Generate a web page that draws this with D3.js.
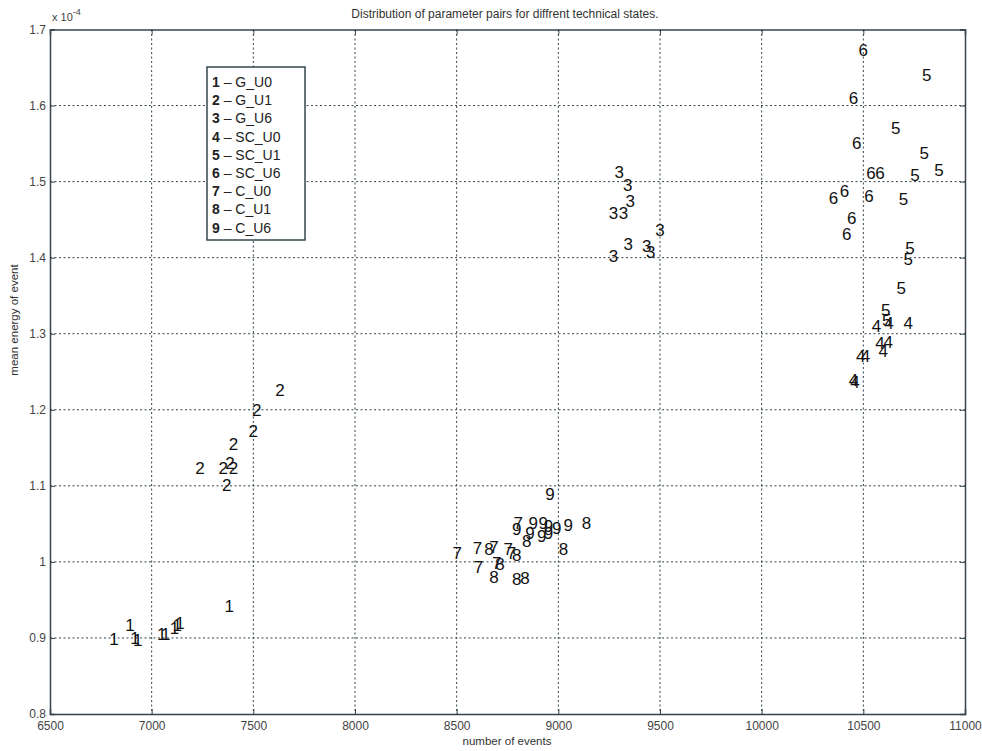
<!DOCTYPE html>
<html>
<head>
<meta charset="utf-8">
<script src="https://cdn.jsdelivr.net/npm/d3@7"></script>
<style>
  body { margin: 0; background: #fff; }
  svg { font-family: "Liberation Sans", Arial, sans-serif; }
  .grid line { stroke: #33424a; stroke-width: 1; stroke-dasharray: 2,2.5; }
  .axis path, .axis line { stroke: #34464c; }
  .axis text { fill: #444; font-size: 12px; }
  .mark { font-size: 17px; fill: #111; }
</style>
</head>
<body>
<script>
// Globals
var svg, plot;

// legend entries, in order of the digit used as marker
var stateNames = ['G_U0', 'G_U1', 'G_U6', 'SC_U0', 'SC_U1', 'SC_U6', 'C_U0', 'C_U1', 'C_U6'];

// [number of events, mean energy (x 1e-4)]
var gU0 = [[6815, 0.898], [6893, 0.917], [6918, 0.899], [6931, 0.896], [7049, 0.905],
           [7069, 0.905], [7112, 0.913], [7126, 0.917], [7139, 0.919], [7382, 0.941]];
var gU1 = [[7631, 1.226], [7517, 1.199], [7500, 1.172], [7402, 1.154], [7238, 1.123],
           [7352, 1.123], [7385, 1.130], [7402, 1.123], [7369, 1.101]];
var gU6 = [[9300, 1.512], [9341, 1.495], [9353, 1.474], [9271, 1.458], [9320, 1.458],
           [9500, 1.436], [9344, 1.417], [9435, 1.415], [9455, 1.407], [9271, 1.401]];
var scU0 = [[10565, 1.309], [10626, 1.314], [10721, 1.313], [10582, 1.287], [10623, 1.289],
            [10598, 1.276], [10487, 1.270], [10511, 1.270], [10451, 1.239], [10459, 1.236]];
var scU1 = [[10812, 1.640], [10659, 1.570], [10799, 1.537], [10754, 1.508], [10872, 1.514],
            [10697, 1.477], [10730, 1.412], [10721, 1.397], [10686, 1.360], [10610, 1.331],
            [10615, 1.318]];
var scU6 = [[10500, 1.673], [10451, 1.609], [10467, 1.550], [10538, 1.511], [10582, 1.511],
            [10353, 1.478], [10407, 1.487], [10528, 1.481], [10443, 1.452], [10418, 1.431]];
var cU0 = [[8803, 1.051], [8503, 1.011], [8602, 1.018], [8684, 1.019], [8754, 1.016],
           [8770, 1.011], [8607, 0.993], [8697, 0.998]];
var cU1 = [[9139, 1.051], [8844, 1.027], [8659, 1.016], [8795, 1.009], [9025, 1.016],
           [8713, 0.997], [8684, 0.980], [8795, 0.977], [8836, 0.978]];
var cU6 = [[8959, 1.088], [8877, 1.051], [8926, 1.051], [8951, 1.047], [8992, 1.044],
           [9049, 1.048], [8795, 1.043], [8861, 1.037], [8918, 1.033], [8951, 1.037]];

var groups = [gU0, gU1, gU6, scU0, scU1, scU6, cU0, cU1, cU6];

var xTicks = [6500, 7000, 7500, 8000, 8500, 9000, 9500, 10000, 10500, 11000];
var yTicks = [0.8, 0.9, 1, 1.1, 1.2, 1.3, 1.4, 1.5, 1.6, 1.7];

{
  const width = 982, height = 751;
  const margin = {top: 29.5, right: 17, bottom: 37, left: 50};
  const w = width - margin.left - margin.right,
        h = height - margin.top - margin.bottom;

  svg = d3.select('body').append('svg')
      .attr('width', width)
      .attr('height', height);

  plot = svg.append('g')
      .attr('transform', 'translate(' + margin.left + ',' + margin.top + ')');

  const x = d3.scaleLinear().domain([6500, 11000]).range([0, w]);
  const y = d3.scaleLinear().domain([0.8, 1.7]).range([h, 0]);

  // dotted grid
  plot.append('g').attr('class', 'grid')
    .selectAll('line')
    .data(xTicks.slice(1, -1))
    .join('line')
      .attr('x1', d => x(d)).attr('x2', d => x(d))
      .attr('y1', 0).attr('y2', h);
  plot.append('g').attr('class', 'grid')
    .selectAll('line')
    .data(yTicks.slice(1, -1))
    .join('line')
      .attr('y1', d => y(d)).attr('y2', d => y(d))
      .attr('x1', 0).attr('x2', w);

  // axes (ticks point inward like matlab)
  const fmtY = d => d3.format('')(+d.toFixed(1));
  const xAxis = plot.append('g').attr('class', 'axis')
      .attr('transform', 'translate(0,' + h + ')')
      .call(d3.axisBottom(x).tickValues(xTicks).tickSize(-5).tickPadding(10).tickFormat(d3.format('d')));
  plot.append('g').attr('class', 'axis')
      .call(d3.axisLeft(y).tickValues(yTicks).tickSize(-5).tickPadding(4).tickFormat(fmtY));
  plot.append('g').attr('class', 'axis')
      .call(d3.axisTop(x).tickValues(xTicks).tickSize(-5).tickFormat(''));
  plot.append('g').attr('class', 'axis')
      .attr('transform', 'translate(' + w + ',0)')
      .call(d3.axisRight(y).tickValues(yTicks).tickSize(-5).tickFormat(''));
  plot.selectAll('.axis path').attr('stroke-width', 1.5);
  xAxis.selectAll('text').attr('dy', '0.5em');

  // exponent label
  const expo = svg.append('text')
      .attr('x', 52).attr('y', 21)
      .attr('font-size', 11).attr('fill', '#444')
      .text('x 10');
  expo.append('tspan').attr('font-size', 9).attr('dy', -6).text('-4');

  // title and axis labels
  svg.append('text')
      .attr('x', 505).attr('y', 18)
      .attr('text-anchor', 'middle')
      .attr('font-size', 12).attr('fill', '#333')
      .text('Distribution of parameter pairs for diffrent technical states.');
  svg.append('text')
      .attr('x', 507).attr('y', 745)
      .attr('text-anchor', 'middle')
      .attr('font-size', 11.5).attr('fill', '#333')
      .text('number of events');
  svg.append('text')
      .attr('transform', 'translate(18,320) rotate(-90)')
      .attr('text-anchor', 'middle')
      .attr('font-size', 11.5).attr('fill', '#333')
      .text('mean energy of event');

  // digit markers
  groups.forEach(function(pts, i) {
    plot.append('g')
      .selectAll('text')
      .data(pts)
      .join('text')
        .attr('class', 'mark')
        .attr('x', d => x(d[0]))
        .attr('y', d => y(d[1]))
        .attr('text-anchor', 'middle')
        .attr('dominant-baseline', 'central')
        .text(i + 1);
  });

  // legend
  const legend = svg.append('g').attr('transform', 'translate(207,67)');
  legend.append('rect')
      .attr('width', 98).attr('height', 173)
      .attr('fill', '#fff')
      .attr('stroke', '#34464c').attr('stroke-width', 1.5);
  const rows = legend.selectAll('text')
    .data(stateNames)
    .join('text')
      .attr('x', 5)
      .attr('y', (d, i) => 15 + i * 18.2)
      .attr('dominant-baseline', 'central')
      .attr('font-size', 14).attr('fill', '#222');
  rows.append('tspan').attr('font-weight', 'bold').text((d, i) => i + 1);
  rows.append('tspan').text(d => ' \u2013 ' + d);
}
</script>
</body>
</html>
